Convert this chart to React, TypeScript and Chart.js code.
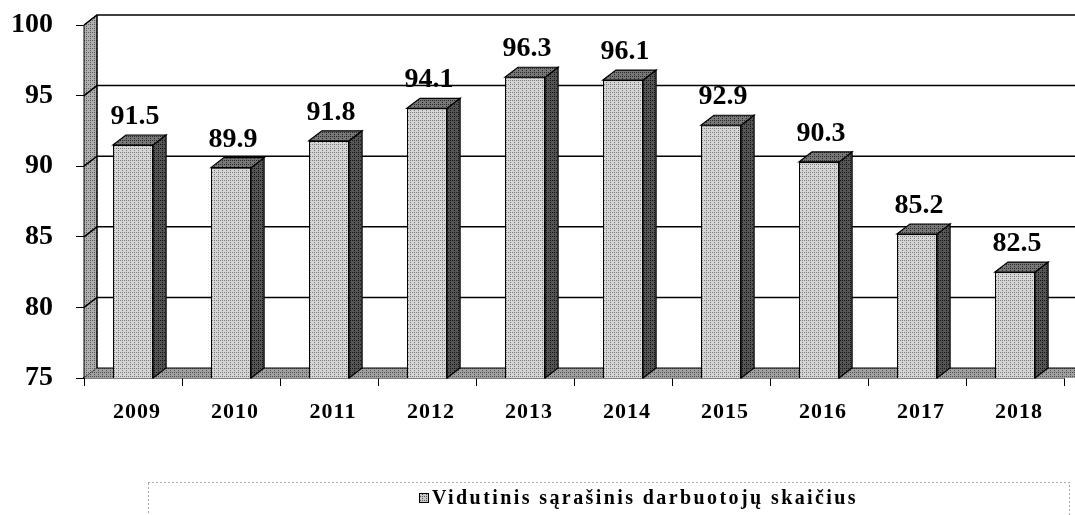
import React, { useEffect, useRef } from "react";
import { Chart, registerables } from "chart.js";

Chart.register(...registerables);

const categories = ["2009", "2010", "2011", "2012", "2013", "2014", "2015", "2016", "2017", "2018"];
const seriesValues = [91.5, 89.9, 91.8, 94.1, 96.3, 96.1, 92.9, 90.3, 85.2, 82.5];
const valueLabels = ["91.5", "89.9", "91.8", "94.1", "96.3", "96.1", "92.9", "90.3", "85.2", "82.5"];
const seriesName = "Vidutinis sąrašinis darbuotojų skaičius";
const yMin = 75;
const yMax = 100;
const yStep = 5;

const DX = 13;
const DY = 10;
const SERIF = '"Liberation Serif", "Times New Roman", serif';

function makePattern(ctx: CanvasRenderingContext2D, base: number, dark: number) {
  const c = document.createElement("canvas");
  c.width = 4;
  c.height = 4;
  const g = c.getContext("2d")!;
  const m = [0, 8, 2, 10, 12, 4, 14, 6, 3, 11, 1, 9, 15, 7, 13, 5];
  const img = g.createImageData(4, 4);
  for (let i = 0; i < 16; i++) {
    const v = m[i] < 3 ? dark : base;
    img.data[i * 4] = v;
    img.data[i * 4 + 1] = v;
    img.data[i * 4 + 2] = v;
    img.data[i * 4 + 3] = 255;
  }
  g.putImageData(img, 0, 0);
  return ctx.createPattern(c, "repeat")!;
}

const threeDPlugin = {
  id: "threeD",
  beforeDatasetsDraw(chart: any) {
    const { ctx, chartArea } = chart;
    const y = chart.scales.y;
    const { left, top, bottom } = chartArea;
    ctx.save();
    // left wall
    ctx.fillStyle = makePattern(ctx, 175, 90);
    ctx.beginPath();
    ctx.moveTo(left, top);
    ctx.lineTo(left + DX, top - DY);
    ctx.lineTo(left + DX, bottom - DY);
    ctx.lineTo(left, bottom);
    ctx.closePath();
    ctx.fill();
    ctx.strokeStyle = "#000";
    ctx.lineWidth = 1;
    ctx.stroke();
    // floor
    ctx.fillStyle = makePattern(ctx, 160, 80);
    ctx.beginPath();
    ctx.moveTo(left, bottom);
    ctx.lineTo(left + DX, bottom - DY);
    ctx.lineTo(chart.width, bottom - DY);
    ctx.lineTo(chart.width, bottom);
    ctx.closePath();
    ctx.fill();
    // gridlines on the back wall
    ctx.strokeStyle = "#000";
    ctx.lineWidth = 1.5;
    for (let v = yMin + yStep; v <= yMax; v += yStep) {
      const py = y.getPixelForValue(v);
      ctx.beginPath();
      ctx.moveTo(left, py);
      ctx.lineTo(left + DX, py - DY);
      ctx.lineTo(chart.width, py - DY);
      ctx.stroke();
    }
    ctx.beginPath();
    ctx.moveTo(left + DX, top - DY);
    ctx.lineTo(left + DX, bottom - DY);
    ctx.lineTo(chart.width, bottom - DY);
    ctx.lineWidth = 1;
    ctx.stroke();
    ctx.restore();
  },
  afterDatasetsDraw(chart: any) {
    const { ctx, chartArea } = chart;
    const meta = chart.getDatasetMeta(0);
    ctx.save();
    const sidePat = makePattern(ctx, 85, 20);
    const topPat = makePattern(ctx, 120, 40);
    meta.data.forEach((bar: any, i: number) => {
      const { x, y, base, width } = bar.getProps(["x", "y", "base", "width"], true);
      const b = Math.min(base, chartArea.bottom);
      const l = x - width / 2;
      const r = x + width / 2;
      ctx.lineWidth = 1.2;
      ctx.strokeStyle = "#000";
      // side
      ctx.fillStyle = sidePat;
      ctx.beginPath();
      ctx.moveTo(r, y);
      ctx.lineTo(r + DX, y - DY);
      ctx.lineTo(r + DX, b - DY);
      ctx.lineTo(r, b);
      ctx.closePath();
      ctx.fill();
      ctx.stroke();
      // top
      ctx.fillStyle = topPat;
      ctx.beginPath();
      ctx.moveTo(l, y);
      ctx.lineTo(l + DX, y - DY);
      ctx.lineTo(r + DX, y - DY);
      ctx.lineTo(r, y);
      ctx.closePath();
      ctx.fill();
      ctx.stroke();
      // value label
      ctx.fillStyle = "#000";
      ctx.font = `bold 28px ${SERIF}`;
      ctx.textAlign = "center";
      ctx.textBaseline = "alphabetic";
      ctx.fillText(valueLabels[i], x + 2, y - 21);
    });
    ctx.restore();
  },
  afterDraw(chart: any) {
    const { ctx, chartArea } = chart;
    const xs = chart.scales.x;
    ctx.save();
    // x labels
    ctx.fillStyle = "#000";
    ctx.font = `bold 22px ${SERIF}`;
    (ctx as any).letterSpacing = "1px";
    ctx.textAlign = "center";
    ctx.textBaseline = "alphabetic";
    categories.forEach((c, i) => {
      ctx.fillText(c, xs.getPixelForValue(i) + 4, chartArea.bottom + 40);
    });
    // legend
    (ctx as any).letterSpacing = "0px";
    ctx.setLineDash([1, 3]);
    ctx.strokeStyle = "#555";
    ctx.lineWidth = 1;
    ctx.strokeRect(148.5, 482.5, 921, 60);
    ctx.setLineDash([]);
    ctx.font = `bold 20px ${SERIF}`;
    const w0 = ctx.measureText(seriesName).width;
    const sp = Math.max(0, (426 - w0) / seriesName.length);
    (ctx as any).letterSpacing = `${sp}px`;
    ctx.textAlign = "left";
    ctx.fillText(seriesName, 432, 504);
    (ctx as any).letterSpacing = "0px";
    ctx.fillStyle = makePattern(ctx, 200, 90);
    ctx.fillRect(419, 493, 10, 10);
    ctx.strokeStyle = "#000";
    ctx.strokeRect(419.5, 493.5, 9, 9);
    ctx.restore();
  },
};

export default function App() {
  const ref = useRef<HTMLCanvasElement | null>(null);
  useEffect(() => {
    const canvas = ref.current!;
    const ctx = canvas.getContext("2d")!;
    const frontPat = makePattern(ctx, 214, 120);
    const chart = new Chart(canvas, {
      type: "bar",
      data: {
        labels: categories,
        datasets: [
          {
            label: seriesName,
            data: seriesValues,
            backgroundColor: frontPat as any,
            borderColor: "#000",
            borderWidth: 1.2,
            barPercentage: 0.41,
            categoryPercentage: 1,
          },
        ],
      },
      options: {
        responsive: false,
        animation: false,
        devicePixelRatio: 1,
        layout: { padding: { top: 25, right: 11, left: 0, bottom: 0 } },
        plugins: { legend: { display: false }, tooltip: { enabled: false } },
        scales: {
          x: {
            afterFit: (s: any) => {
              s.height = 137;
              s.paddingLeft = 0;
              s.paddingRight = 0;
            },
            grid: { drawOnChartArea: false, tickLength: 8, color: "#000", offset: true },
            border: { display: true, color: "#000", width: 1.5 },
            ticks: { display: false },
          },
          y: {
            min: yMin,
            max: yMax,
            afterFit: (s: any) => {
              s.width = 84;
              s.paddingTop = 0;
              s.paddingBottom = 0;
            },
            grid: { drawOnChartArea: false, tickLength: 8, color: "#000" },
            border: { display: true, color: "#000", width: 1 },
            ticks: {
              stepSize: yStep,
              color: "#000",
              padding: 23,
              font: { family: SERIF, size: 28, weight: "bold" },
            },
          },
        },
      },
      plugins: [threeDPlugin],
    });
    return () => chart.destroy();
  }, []);
  return (
    <div style={{ position: "fixed", left: 0, top: 0, width: 1075, height: 515, background: "#fff" }}>
      <canvas ref={ref} width={1075} height={515} />
    </div>
  );
}
